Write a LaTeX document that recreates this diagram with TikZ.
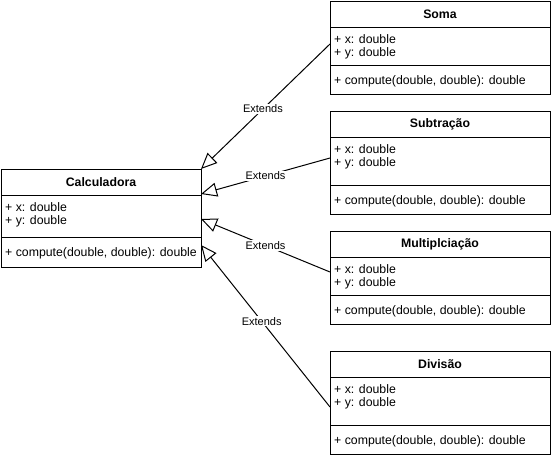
\documentclass[tikz,border=0pt]{standalone}
\usepackage{fontspec}
\setmainfont{Liberation Sans}
\usetikzlibrary{arrows.meta,calc}
\newcommand\umlcls[8]{% name, x, width, top, hdr, sep, bottom, title
  \node[classbox, minimum width={#3*1pt}, minimum height={(#7-#4)*1pt}] (#1) at (#2,#4) {};
  \draw[sepline] (#2,#5) -- ++(#3,0);
  \draw[sepline] (#2,#6) -- ++(#3,0);
  \node[clstitle] (#1-t) at ({#2+#3/2},{(#4+#5)/2}) {#8};
  \node[clsmember] (#1-x) at (#2+4,#5+12.5) {+ x: double};
  \node[clsmember] (#1-y) at (#2+4,#5+26.5) {+ y: double};
  \node[clsmember] (#1-m) at (#2+4,#6+16) {+ compute(double, double): double};
}
\begin{document}
\begin{tikzpicture}[x=1pt,y=-1pt,
  classbox/.style={draw, line width=1pt, inner sep=0pt, outer sep=0pt, anchor=north west},
  clstitle/.style={font=\fontsize{12.3}{14}\selectfont\bfseries, inner sep=0pt},
  clsmember/.style={font=\fontsize{12.3}{14}\selectfont, inner sep=0pt, anchor=west},
  sepline/.style={line width=1pt},
  ext/.style={line width=1pt, -{Triangle[open, length=16pt, width=14pt]}},
  lbl/.style={fill=white, font=\fontsize{11}{13}\selectfont, inner sep=1pt}]
\useasboundingbox (0,0) rectangle (551,458);
\umlcls{calc}{1}{200}{169}{195}{237}{267}{Calculadora}
\umlcls{soma}{330}{220}{1}{27}{65}{94}{Soma}
\umlcls{sub}{330}{220}{111}{137}{185}{214}{Subtração}
\umlcls{mult}{330}{220}{231}{257}{295}{324}{Multiplciação}
\umlcls{div}{330}{220}{351}{377}{425}{454}{Divisão}
\coordinate (somaL) at ($(soma.north west)+(0,43)$);
\coordinate (subL) at ($(sub.north west)+(0,47)$);
\coordinate (multL) at ($(mult.north west)+(0,41)$);
\coordinate (divL) at ($(div.north west)+(0,56)$);
\coordinate (calcR1) at (calc.north east);
\coordinate (calcR2) at ($(calc.north east)+(0,25)$);
\coordinate (calcR3) at ($(calc.north east)+(0,50)$);
\coordinate (calcR4) at ($(calc.north east)+(0,76)$);
\draw[ext] (somaL) -- node[lbl, pos=0.52] {Extends} (calcR1);
\draw[ext] (subL) -- node[lbl] {Extends} (calcR2);
\draw[ext] (multL) -- node[lbl] {Extends} (calcR3);
\draw[ext] (divL) -- node[lbl, pos=0.53] {Extends} (calcR4);
\end{tikzpicture}
\end{document}
